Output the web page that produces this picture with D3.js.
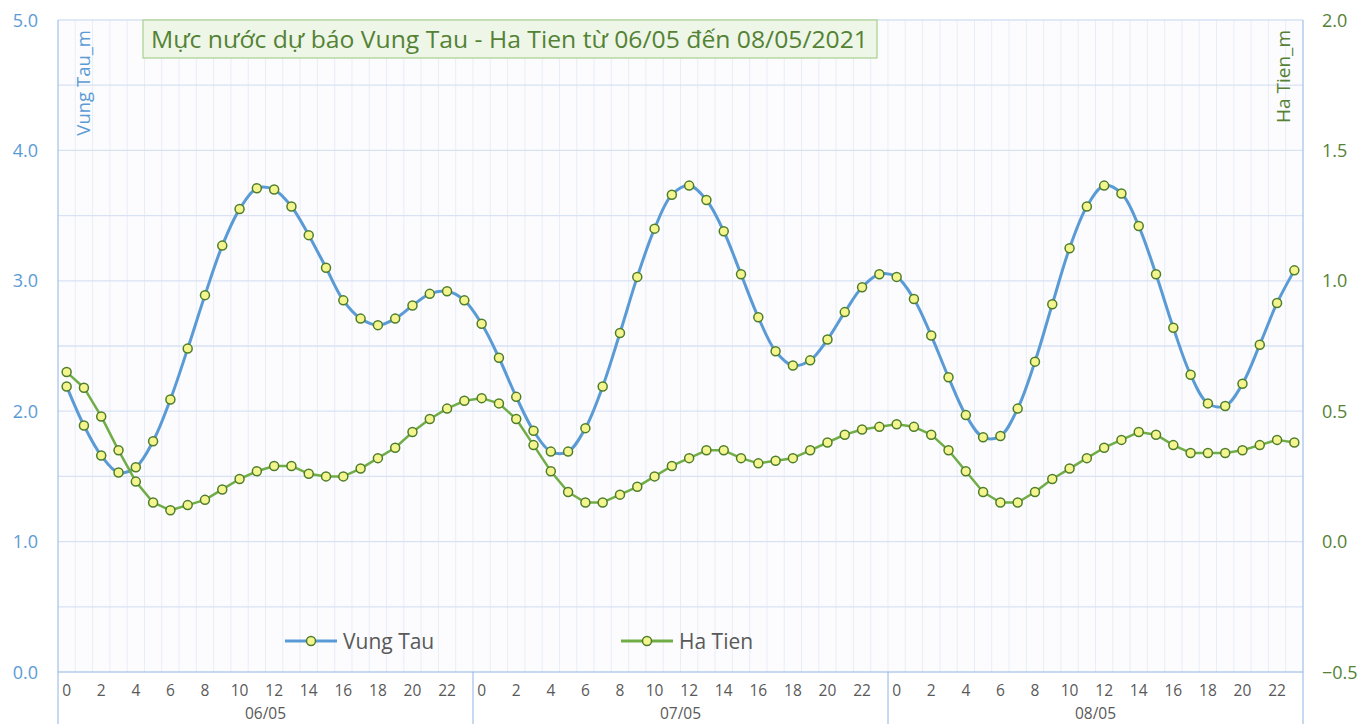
<!DOCTYPE html>
<html>
<head>
<meta charset="utf-8">
<script src="https://cdn.jsdelivr.net/npm/d3@7"></script>
<style>
  body { margin: 0; background: #fff; }
  text { font-family: "Open Sans", "Noto Sans", sans-serif; }
</style>
</head>
<body>
<div id="chart"></div>
<script>
const days = ["06/05", "07/05", "08/05"];
const hours = d3.range(24);
const leftTicks = [0, 1, 2, 3, 4, 5];
const rightTicks = [-0.5, 0, 0.5, 1, 1.5, 2];

const vungTau = [
  2.19, 1.89, 1.66, 1.53, 1.57, 1.77, 2.09, 2.48, 2.89, 3.27, 3.55, 3.71,
  3.70, 3.57, 3.35, 3.10, 2.85, 2.71, 2.66, 2.71, 2.81, 2.90, 2.92, 2.85,
  2.67, 2.41, 2.11, 1.85, 1.69, 1.69, 1.87, 2.19, 2.60, 3.03, 3.40, 3.66,
  3.73, 3.62, 3.38, 3.05, 2.72, 2.46, 2.35, 2.39, 2.55, 2.76, 2.95, 3.05,
  3.03, 2.86, 2.58, 2.26, 1.97, 1.80, 1.81, 2.02, 2.38, 2.82, 3.25, 3.57,
  3.73, 3.67, 3.42, 3.05, 2.64, 2.28, 2.06, 2.04, 2.21, 2.51, 2.83, 3.08
];
const haTien = [
  0.65, 0.59, 0.48, 0.35, 0.23, 0.15, 0.12, 0.14, 0.16, 0.20, 0.24, 0.27,
  0.29, 0.29, 0.26, 0.25, 0.25, 0.28, 0.32, 0.36, 0.42, 0.47, 0.51, 0.54,
  0.55, 0.53, 0.47, 0.37, 0.27, 0.19, 0.15, 0.15, 0.18, 0.21, 0.25, 0.29,
  0.32, 0.35, 0.35, 0.32, 0.30, 0.31, 0.32, 0.35, 0.38, 0.41, 0.43, 0.44,
  0.45, 0.44, 0.41, 0.35, 0.27, 0.19, 0.15, 0.15, 0.19, 0.24, 0.28, 0.32,
  0.36, 0.39, 0.42, 0.41, 0.37, 0.34, 0.34, 0.34, 0.35, 0.37, 0.39, 0.38
];

const W = 1359, H = 724;
const plot = {left: 58, right: 1303, top: 20, bottom: 672};

const svg = d3.select("#chart").append("svg")
  .attr("width", W).attr("height", H);

const n = vungTau.length;
const x = d3.scaleBand().domain(d3.range(n)).range([plot.left, plot.right]).padding(0);
const cx = i => x(i) + x.bandwidth() / 2;
const yL = d3.scaleLinear().domain([0, 5]).range([plot.bottom, plot.top]);
const yR = d3.scaleLinear().domain([-0.5, 2]).range([plot.bottom, plot.top]);

// plot background
svg.append("rect")
  .attr("x", plot.left).attr("y", plot.top)
  .attr("width", plot.right - plot.left).attr("height", plot.bottom - plot.top)
  .attr("fill", "#fcfcfe");

// vertical grid (category boundaries)
svg.append("g").selectAll("line")
  .data(d3.range(1, n))
  .enter().append("line")
  .attr("x1", d => x(d)).attr("x2", d => x(d))
  .attr("y1", plot.top).attr("y2", plot.bottom)
  .attr("stroke", "#e8edf7").attr("stroke-width", 1);

// horizontal grid every 0.5
svg.append("g").selectAll("line")
  .data(d3.range(0.5, 5.01, 0.5))
  .enter().append("line")
  .attr("x1", plot.left).attr("x2", plot.right)
  .attr("y1", d => yL(d)).attr("y2", d => yL(d))
  .attr("stroke", "#d9e2f3").attr("stroke-width", 1.3);

// plot borders
svg.append("line").attr("x1", plot.left).attr("x2", plot.left)
  .attr("y1", plot.top).attr("y2", H).attr("stroke", "#8fb4e3");
svg.append("line").attr("x1", plot.right).attr("x2", plot.right)
  .attr("y1", plot.top).attr("y2", H).attr("stroke", "#8fb4e3");
svg.append("line").attr("x1", plot.left).attr("x2", plot.right)
  .attr("y1", plot.bottom).attr("y2", plot.bottom).attr("stroke", "#8fb4e3");

// day separators
svg.append("g").selectAll("line")
  .data([24, 48])
  .enter().append("line")
  .attr("x1", d => x(d)).attr("x2", d => x(d))
  .attr("y1", plot.bottom).attr("y2", H)
  .attr("stroke", "#8fb4e3");

// x tick labels
const xLabels = d3.range(n).filter(i => i % 2 === 0);
svg.append("g").selectAll("text")
  .data(xLabels)
  .enter().append("text")
  .attr("x", d => cx(d)).attr("y", 696)
  .attr("text-anchor", "middle")
  .attr("font-size", 15.5).attr("fill", "#595959")
  .text(d => hours[d % 24]);

svg.append("g").selectAll("text")
  .data(days)
  .enter().append("text")
  .attr("x", (d, i) => (x(i * 24) + x(i * 24 + 23) + x.bandwidth()) / 2)
  .attr("y", 719)
  .attr("text-anchor", "middle")
  .attr("font-size", 15.5).attr("fill", "#595959")
  .text(d => d);

// left axis
svg.append("g").selectAll("text")
  .data(leftTicks)
  .enter().append("text")
  .attr("x", 38).attr("y", d => yL(d) + 6.5)
  .attr("text-anchor", "end")
  .attr("font-size", 18).attr("fill", "#5b9bd5")
  .text(d => d3.format(".1f")(d));

// right axis
svg.append("g").selectAll("text")
  .data(rightTicks)
  .enter().append("text")
  .attr("x", 1322).attr("y", d => yR(d) + 6.5)
  .attr("text-anchor", "start")
  .attr("font-size", 18).attr("fill", "#548235")
  .text(d => d3.format(".1f")(d));

// axis titles
svg.append("text")
  .attr("transform", "translate(90,30) rotate(-90)")
  .attr("text-anchor", "end")
  .attr("font-size", 18.5).attr("fill", "#5b9bd5")
  .text("Vung Tau_m");
svg.append("text")
  .attr("transform", "translate(1290,30) rotate(-90)")
  .attr("text-anchor", "end")
  .attr("font-size", 19).attr("fill", "#548235")
  .text("Ha Tien_m");

// lines
const lineVT = d3.line().x((d, i) => cx(i)).y(d => yL(d)).curve(d3.curveCatmullRom.alpha(0.5));
const lineHT = d3.line().x((d, i) => cx(i)).y(d => yR(d));

svg.append("path").datum(vungTau)
  .attr("d", lineVT).attr("fill", "none")
  .attr("stroke", "#5b9bd5").attr("stroke-width", 3)
  .attr("stroke-linejoin", "round");
svg.append("path").datum(haTien)
  .attr("d", lineHT).attr("fill", "none")
  .attr("stroke", "#70ad47").attr("stroke-width", 2.5)
  .attr("stroke-linejoin", "round");

function markers(data, y) {
  svg.append("g").selectAll("circle")
    .data(data)
    .enter().append("circle")
    .attr("cx", (d, i) => cx(i)).attr("cy", d => y(d))
    .attr("r", 4.5)
    .attr("fill", "#f4f58e")
    .attr("stroke", "#4e7d2a").attr("stroke-width", 1.5);
}
markers(vungTau, yL);
markers(haTien, yR);

// title box
svg.append("rect")
  .attr("x", 143).attr("y", 20).attr("width", 734).attr("height", 38)
  .attr("fill", "#eef6e8").attr("stroke", "#a9d18e").attr("stroke-width", 1.2);
svg.append("text")
  .attr("x", 151).attr("y", 48)
  .attr("textLength", 717).attr("lengthAdjust", "spacingAndGlyphs")
  .attr("font-size", 23).attr("fill", "#548235")
  .text("Mực nước dự báo Vung Tau - Ha Tien từ 06/05 đến 08/05/2021");

// legend
const legend = [
  {name: "Vung Tau", color: "#5b9bd5", x: 285},
  {name: "Ha Tien", color: "#70ad47", x: 621}
];
const lg = svg.append("g").selectAll("g")
  .data(legend)
  .enter().append("g")
  .attr("transform", d => `translate(${d.x},641)`);
lg.append("line").attr("x1", 0).attr("x2", 52)
  .attr("stroke", d => d.color).attr("stroke-width", 3);
lg.append("circle").attr("cx", 26).attr("r", 4.5)
  .attr("fill", "#f4f58e").attr("stroke", "#4e7d2a").attr("stroke-width", 1.5);
lg.append("text").attr("x", 58).attr("y", 7.5)
  .attr("font-size", 21).attr("fill", "#595959")
  .text(d => d.name);
</script>
</body>
</html>
